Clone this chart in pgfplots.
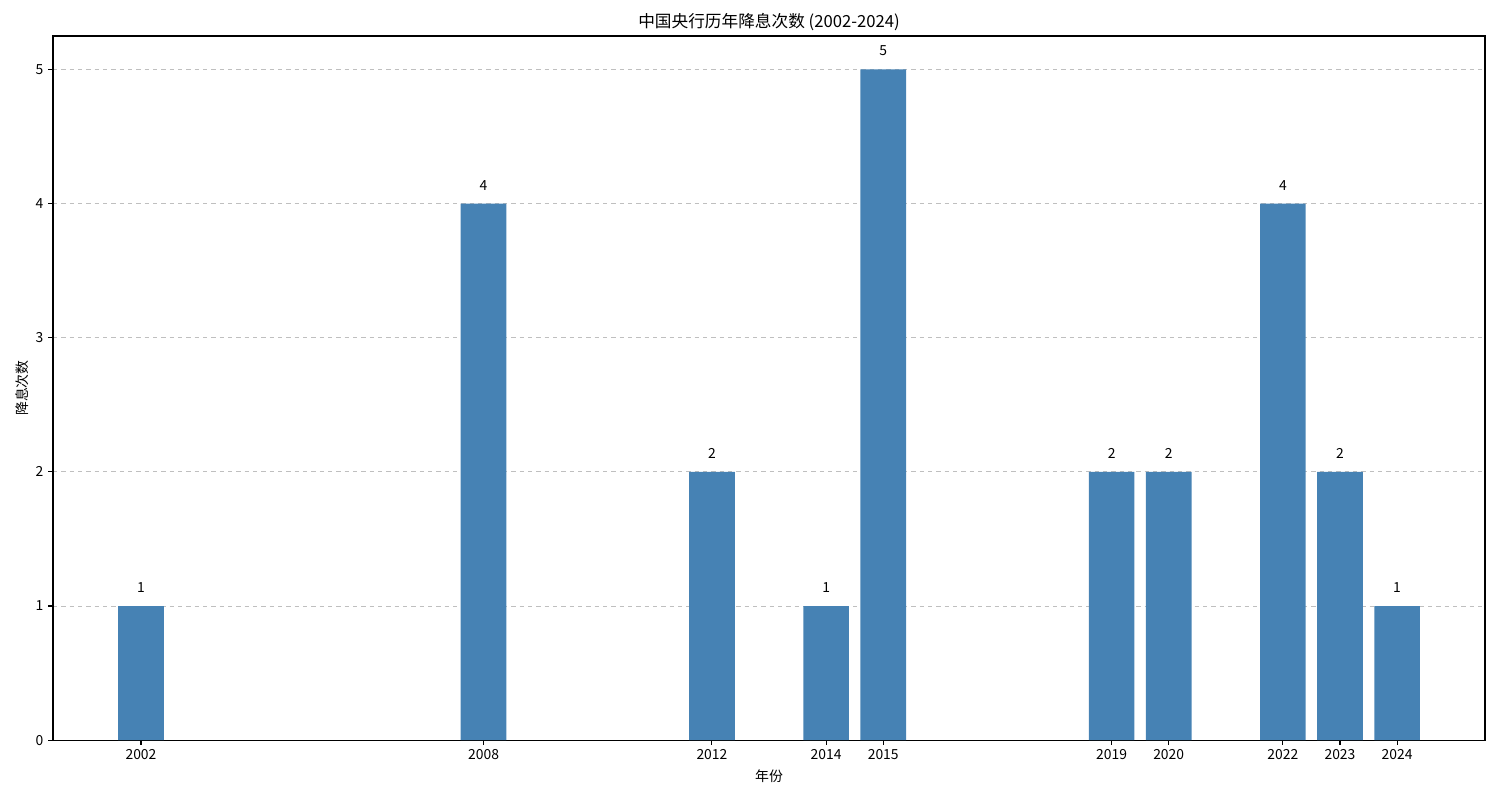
\documentclass[border=0pt]{standalone}
\usepackage{fontspec}
\setmainfont{Noto Sans CJK SC}
\usepackage{pgfplots}
\pgfplotsset{compat=1.18}
\definecolor{steelblue}{HTML}{4682B4}
\begin{document}
\begin{tikzpicture}
\begin{axis}[
    scale only axis,
    width=1031pt, height=507pt,
    xmin=2000.46, xmax=2025.54,
    ymin=0, ymax=5.25,
    xtick={2002,2008,2012,2014,2015,2019,2020,2022,2023,2024},
    ytick={0,1,2,3,4,5},
    xticklabel style={/pgf/number format/1000 sep={}},
    /pgf/number format/assume math mode=true,
    tick label style={font=\fontsize{10}{12}\selectfont},
    tick align=outside,
    major tick length=3.5pt,
    tick style={black, line width=0.8pt},
    xtick pos=bottom, ytick pos=left,
    axis line style={line width=0.8pt},
    ymajorgrids,
    grid style={dashed, gray!50, line width=0.6pt},
    title={中国央行历年降息次数 (2002-2024)},
    title style={font=\fontsize{12}{14}\selectfont, yshift=-6pt},
    xlabel={年份},
    ylabel={降息次数},
    label style={font=\fontsize{10}{12}\selectfont},
    ylabel style={yshift=-2pt},
    ybar, bar width=0.8,
    bar shift=0pt,
    nodes near coords,
    every node near coord/.append style={font=\fontsize{10}{12}\selectfont, inner sep=0pt, anchor=south, yshift=9.6pt},
]
\addplot[fill=steelblue, draw=none] coordinates {
    (2002,1) (2008,4) (2012,2) (2014,1) (2015,5)
    (2019,2) (2020,2) (2022,4) (2023,2) (2024,1)
};
\end{axis}
\path[use as bounding box] ([xshift=-38.2pt,yshift=-43.2pt]current axis.south west) rectangle ([xshift=10.8pt,yshift=25.9pt]current axis.north east);
\end{tikzpicture}
\end{document}
